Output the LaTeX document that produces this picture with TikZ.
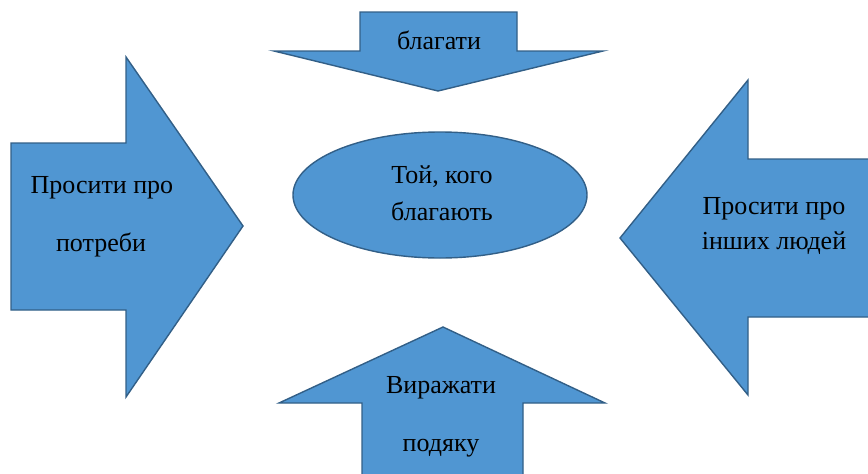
\documentclass[tikz,border=0pt]{standalone}
\usepackage{fontspec}
\setmainfont{Liberation Serif}
\usepackage{tikz}
\usetikzlibrary{positioning}
\definecolor{shapeblue}{RGB}{80,150,210}
\definecolor{edgeblue}{RGB}{50,95,135}
\tikzset{
    blueshape/.style={fill=shapeblue, draw=edgeblue, line width=1.4pt, line join=miter},
    label/.style={font=\fontsize{26}{26}\selectfont, text=black, inner sep=0pt}
}

\begin{document}
\begin{tikzpicture}[x=1pt, y=-1pt]
            \useasboundingbox (0,0) rectangle (868,474);
            % top arrow
            \draw[blueshape] (360,12) -- (517,12) -- (517,51) -- (603,51) -- (438,91)
                -- (274,51) -- (360,51) -- cycle;
            \node[label] (top) at (439,40) {благати};
            % left arrow
            \draw[blueshape] (11,143) -- (126,143) -- (126,57) -- (243,226) -- (126,397)
                -- (126,310) -- (11,310) -- cycle;
            \node[label] (left1) at (102,188) {Просити про};
            \node[label] (left2) at (101,245) {потреби};
            % right arrow
            \draw[blueshape] (870,159) -- (748,159) -- (748,80) -- (620,238) -- (748,395)
                -- (748,317) -- (870,317) -- cycle;
            \node[label] (right1) at (774,209) {Просити про};
            \node[label] (right2) at (774,243) {інших людей};
            % bottom arrow
            \draw[blueshape] (362,476) -- (362,403) -- (279,403) -- (443,327) -- (605,403)
                -- (523,403) -- (523,476) -- cycle;
            \node[label] (bottom1) at (441,388) {Виражати};
            \node[label] (bottom2) at (441,448) {подяку};
            % centre
            \draw[blueshape] (440,195) ellipse [x radius=147, y radius=63];
            \node[label] (centre1) at (442,177) {Той, кого};
            \node[label] (centre2) at (442,211) {благають};
        \end{tikzpicture}
\end{document}
